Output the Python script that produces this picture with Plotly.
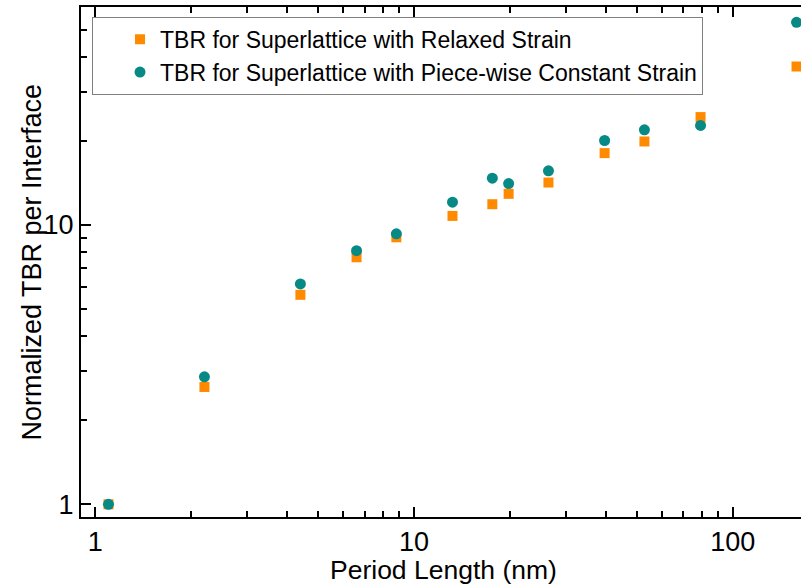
import plotly.graph_objects as go

period_nm = [1.1, 2.2, 4.4, 6.6, 8.8, 13.2, 17.6, 19.8, 26.4, 39.6, 52.8, 79.2, 158.4]
tbr_relaxed = [1.0, 2.63, 5.62, 7.66, 9.03, 10.77, 11.86, 12.92, 14.18, 18.07, 19.89, 24.32, 36.9]
tbr_piecewise = [1.0, 2.86, 6.15, 8.09, 9.29, 12.06, 14.70, 14.06, 15.62, 20.05, 21.90, 22.70, 53.1]

name_relaxed = "TBR for Superlattice with Relaxed Strain"
name_piecewise = "TBR for Superlattice with Piece-wise Constant Strain"
x_title = "Period Length (nm)"
y_title = "Normalized TBR per Interface"

FONT = "Liberation Sans, Arial, sans-serif"

fig = go.Figure()
fig.add_trace(go.Scatter(x=period_nm, y=tbr_relaxed, mode="markers", name=name_relaxed,
                         marker=dict(symbol="square", size=10, color="#FF8A00")))
fig.add_trace(go.Scatter(x=period_nm, y=tbr_piecewise, mode="markers", name=name_piecewise,
                         marker=dict(symbol="circle", size=11, color="#078985")))

fig.update_layout(
    width=801, height=586,
    margin=dict(l=81, r=0, t=7, b=69),
    paper_bgcolor="white", plot_bgcolor="white",
    font=dict(family=FONT, color="black"),
    legend=dict(x=0.0153, y=1 - (17 - 7.3) / 509.4, xanchor="left", yanchor="top",
                bordercolor="#7f7f7f", borderwidth=1, bgcolor="white",
                font=dict(size=23, family=FONT), indentation=27,
                entrywidth=580, entrywidthmode="pixels",
                tracegroupgap=0),
    xaxis=dict(type="log", range=[-0.0448, 2.2138], showline=True, linecolor="black", linewidth=2,
               mirror="ticks", ticks="inside", ticklen=10, tickwidth=1.5, tickcolor="black",
               dtick=1, showgrid=False, zeroline=False,
               tickfont=dict(size=27, family=FONT),
               minor=dict(dtick="D1", ticks="inside", ticklen=6, tickwidth=1.5, tickcolor="black", showgrid=False)),
    yaxis=dict(type="log", range=[-0.0455, 1.780], showline=True, linecolor="black", linewidth=2,
               mirror=False, ticks="inside", ticklen=10, tickwidth=1.5, tickcolor="black",
               dtick=1, showgrid=False, zeroline=False,
               tickfont=dict(size=27, family=FONT),
               minor=dict(dtick="D1", ticks="inside", ticklen=6, tickwidth=1.5, tickcolor="black", showgrid=False)),
    annotations=[
        dict(text=y_title, textangle=-90, xref="paper", yref="paper",
             x=(32 - 81) / 720, y=0.499, xanchor="center", yanchor="middle",
             showarrow=False, font=dict(size=27, family=FONT, color="black")),
        dict(text=x_title, xref="paper", yref="paper",
             x=(443 - 81) / 720, y=1 - (570 - 7.3) / 509.4, xanchor="center", yanchor="middle",
             showarrow=False, font=dict(size=26.5, family=FONT, color="black")),
    ],
)

fig.write_html("out.html")
